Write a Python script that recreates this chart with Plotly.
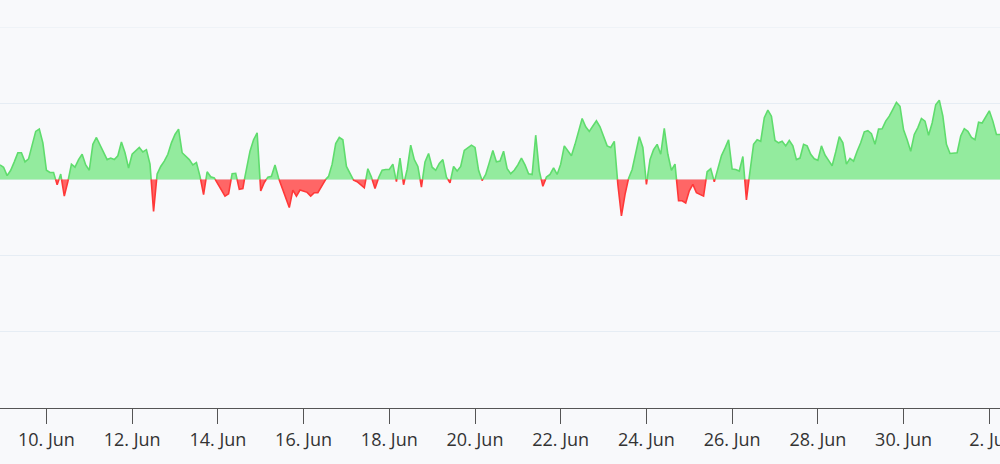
import pandas as pd
import plotly.graph_objects as go

# ---- data (2-hourly readings) ----
start_time = "2023-06-08 22:00"
values = [
    1.9, 1.6, 0.5, 1.2, 2.3, 3.5, 3.5, 2.3, 2.7, 4.4,
    6.3, 6.6, 4.8, 1.2, 0.9, 0.9, -0.7, 0.7, -2.2, -0.3,
    2.0, 1.6, 2.6, 3.3, 1.9, 1.2, 4.6, 5.5, 4.6, 3.6,
    2.6, 2.8, 2.6, 3.1, 4.9, 3.5, 1.5, 3.3, 3.8, 4.2,
    3.6, 3.9, 2.0, -4.2, 0.7, 1.7, 2.4, 3.3, 4.8, 5.9,
    6.6, 3.5, 3.0, 2.6, 1.9, 2.2, 0.4, -2.0, 1.0, 0.35,
    0.2, -0.6, -1.5, -2.2, -1.9, 0.75, 0.8, -1.3, -1.2, 1.5,
    3.7, 5.2, 6.1, -1.5, -0.4, 0.3, 0.4, 1.9, 0.2, -1.2,
    -2.4, -3.7, -1.4, -2.2, -1.4, -1.5, -1.7, -2.2, -1.75, -1.75,
    -1.0, -0.1, 0.4, 2.0, 4.7, 5.5, 5.2, 1.7, 0.7, -0.1,
    -0.3, -0.7, -1.1, 1.4, 0.3, -1.2, 0.2, 1.2, 1.3, 1.3,
    2.0, -0.3, 2.8, -0.7, 1.3, 4.5, 2.6, 1.7, -1.0, 2.3,
    3.4, 1.6, 1.2, 2.1, 2.6, 0.3, -0.45, 1.7, 1.1, 1.7,
    3.8, 4.2, 4.5, 4.2, 1.2, -0.15, 0.65, 2.2, 3.8, 2.3,
    2.4, 3.7, 1.4, 0.75, 1.2, 1.9, 2.8, 1.9, 0.75, 0.65,
    5.8, 1.1, -0.9, 0.3, 0.65, 1.5, 0.65, 2.0, 4.4, 3.7,
    3.1, 4.6, 6.4, 8.0, 6.9, 6.3, 7.0, 7.7, 6.9, 5.6,
    4.4, 4.2, 5.0, -0.65, -4.8, -2.0, 0.13, 1.3, 3.5, 5.6,
    4.2, -0.65, 2.6, 3.9, 4.6, 3.3, 6.7, 3.3, 1.2, 2.0,
    -2.8, -2.8, -3.1, -1.5, -0.65, -1.75, -2.0, -2.2, 1.0, 1.4,
    -0.3, 1.3, 3.1, 4.1, 5.2, 1.35, 1.3, 1.1, 3.0, -2.7,
    1.1, 4.6, 5.2, 5.0, 8.1, 9.1, 8.3, 5.1, 4.8, 5.0,
    4.4, 5.1, 4.4, 2.6, 2.8, 4.6, 4.4, 3.3, 2.7, 2.5,
    4.4, 3.2, 2.5, 1.8, 3.6, 5.6, 4.8, 2.0, 2.75, 2.4,
    3.7, 4.8, 6.25, 6.4, 6.0, 4.6, 6.6, 6.65, 7.65, 8.3,
    9.2, 10.1, 9.6, 6.5, 5.2, 3.7, 5.9, 6.8, 8.0, 7.65,
    5.8, 7.4, 9.8, 10.4, 8.3, 4.6, 3.4, 3.5, 3.5, 5.7,
    6.65, 6.3, 5.5, 5.2, 7.5, 7.4, 8.3, 9.0, 7.65, 5.9, 5.9,
]
y_top = 20
y_bottom = -30
y_step = 10

times = pd.date_range(start_time, periods=len(values), freq="2h")

# split into positive / negative parts at the zero crossings
xs, ys = [], []
for k in range(len(values)):
    if k > 0:
        a, b = values[k - 1], values[k]
        if a * b < 0:
            frac = a / (a - b)
            xs.append(times[k - 1] + (times[k] - times[k - 1]) * frac)
            ys.append(0.0)
    xs.append(times[k])
    ys.append(values[k])

pos = [y if y >= 0 else None for y in ys]
neg = [y if y <= 0 else None for y in ys]

grid_color = "#e6edf4"

fig = go.Figure()
fig.add_trace(go.Scatter(
    x=xs, y=pos, mode="lines", fill="tozeroy", connectgaps=False,
    line=dict(color="#5fdc6d", width=1.6),
    fillcolor="#93eb9e", hoverinfo="skip", showlegend=False,
))
fig.add_trace(go.Scatter(
    x=xs, y=neg, mode="lines", fill="tozeroy", connectgaps=False,
    line=dict(color="#ff3838", width=1.6),
    fillcolor="#ff6666", hoverinfo="skip", showlegend=False,
))

# top grid line (plotly skips the gridline at the range edge)
fig.add_shape(type="line", xref="paper", yref="y", x0=0, x1=1, y0=y_top, y1=y_top,
              line=dict(color=grid_color, width=1), layer="below")

bg = "#f8f9fb"
fig.update_layout(
    width=1000, height=464,
    margin=dict(l=0, r=0, t=27, b=56, autoexpand=False),
    paper_bgcolor=bg, plot_bgcolor=bg,
    font=dict(family="Open Sans, Noto Sans, sans-serif", size=18, color="#333333"),
    xaxis=dict(
        type="date",
        range=[times[0], times[-1]],
        tick0="2023-06-10", dtick=2 * 86400000,
        tickformat="%-d. %b",
        ticks="outside", ticklen=15, tickwidth=1, tickcolor="#555555",
        showline=True, linecolor="#555555", linewidth=1,
        showgrid=False, zeroline=False,
        automargin=False,
        ticklabeloverflow="allow",
        tickfont=dict(size=18, color="#333333"),
    ),
    yaxis=dict(
        range=[y_bottom, y_top], dtick=y_step,
        showticklabels=False, ticks="",
        gridcolor=grid_color, gridwidth=1,
        zeroline=False, showline=False,
        automargin=False,
    ),
)

fig.write_html("out.html")
